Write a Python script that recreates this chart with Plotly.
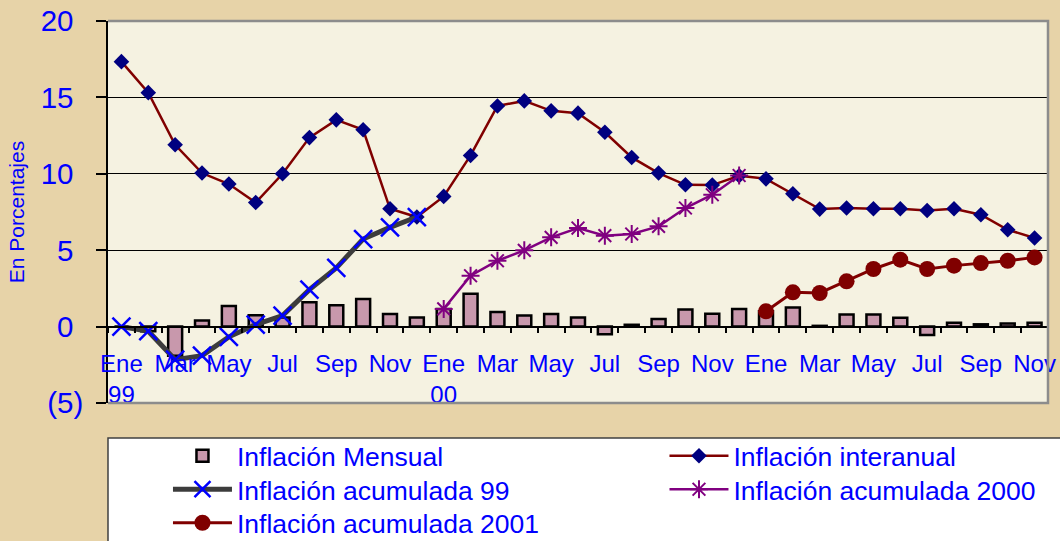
import plotly.graph_objects as go

# ---------------- data ----------------
meses = ["Ene", "Feb", "Mar", "Abr", "May", "Jun", "Jul", "Ago", "Sep", "Oct", "Nov", "Dic"]
anios = ["99", "00", "01"]
categorias = [f"{m} {a}" for a in anios for m in meses][:35]

x_tick_text = ["Ene<br>99", "", "Mar", "", "May", "", "Jul", "", "Sep", "", "Nov", "",
               "Ene<br>00", "", "Mar", "", "May", "", "Jul", "", "Sep", "", "Nov", "",
               "Ene", "", "Mar", "", "May", "", "Jul", "", "Sep", "", "Nov"]

inflacion_mensual = [0.0, -0.3, -1.9, 0.4, 1.35, 0.75, 0.6, 1.6, 1.4, 1.8, 0.82, 0.6,
                     1.15, 2.15, 0.95, 0.72, 0.82, 0.6, -0.5, 0.12, 0.5, 1.12, 0.84, 1.15,
                     1.0, 1.25, 0.05, 0.8, 0.8, 0.58, -0.55, 0.25, 0.15, 0.2, 0.25]

inflacion_interanual = [17.34, 15.31, 11.9, 10.05, 9.33, 8.12, 10.0, 12.37, 13.53, 12.88, 7.71, 7.17,
                        8.52, 11.2, 14.44, 14.77, 14.12, 13.97, 12.72, 11.07, 10.05, 9.28, 9.26, 9.87,
                        9.67, 8.69, 7.69, 7.76, 7.71, 7.71, 7.6, 7.71, 7.32, 6.34, 5.8]

acumulada_99 = [0.0, -0.3, -2.16, -1.9, -0.67, 0.13, 0.72, 2.42, 3.84, 5.73, 6.49, 7.17]
acumulada_2000 = [1.16, 3.33, 4.31, 4.99, 5.84, 6.45, 5.95, 6.06, 6.56, 7.76, 8.63, 9.89]
acumulada_2001 = [1.0, 2.24, 2.2, 2.96, 3.77, 4.38, 3.77, 3.99, 4.16, 4.31, 4.53]

y_tick_vals = [-5, 0, 5, 10, 15, 20]
_pad = "<span style='color:rgba(0,0,0,0)'>)</span>"
y_tick_text = ["(5)", "0" + _pad, "5" + _pad, "10" + _pad, "15" + _pad, "20" + _pad]

# ---------------- style ----------------
FONT = "Arial, 'Liberation Sans', sans-serif"
BLUE = "#0000FF"

fig = go.Figure()

fig.add_trace(go.Bar(
    x=categorias, y=inflacion_mensual, name="Inflación Mensual",
    marker=dict(color="#C898AC", line=dict(color="#000000", width=2.5)),
    legend="legend",
))
fig.add_trace(go.Scatter(
    x=categorias, y=inflacion_interanual, name="Inflación interanual",
    mode="lines+markers",
    line=dict(color="#800000", width=2.5),
    marker=dict(symbol="diamond", size=12, color="#000080"),
    legend="legend2",
))
fig.add_trace(go.Scatter(
    x=categorias[0:12], y=acumulada_99, name="Inflación acumulada 99",
    mode="lines+markers",
    line=dict(color="#3C3C3C", width=5),
    marker=dict(symbol="x-thin", size=18, color=BLUE, line=dict(color=BLUE, width=2.5)),
    legend="legend3",
))
fig.add_trace(go.Scatter(
    x=categorias[12:24], y=acumulada_2000, name="Inflación acumulada 2000",
    mode="lines+markers",
    line=dict(color="#800080", width=2.5),
    marker=dict(symbol="asterisk", size=15, color="#800080", line=dict(color="#800080", width=2)),
    legend="legend4",
))
fig.add_trace(go.Scatter(
    x=categorias[24:35], y=acumulada_2001, name="Inflación acumulada 2001",
    mode="lines+markers",
    line=dict(color="#800000", width=3),
    marker=dict(symbol="circle", size=16, color="#800000"),
    legend="legend5",
))

legend_common = dict(
    orientation="v", yanchor="top", xanchor="left",
    bgcolor="rgba(0,0,0,0)", borderwidth=0,
    font=dict(family=FONT, size=26.5, color=BLUE),
    itemwidth=59, tracegroupgap=0,
)
COL1, COL2 = 0.0638, 0.592
ROW1, ROW2, ROW3 = -0.0759, -0.1636, -0.2513

fig.update_layout(
    width=1060, height=541,
    margin=dict(l=108, r=12, t=21, b=138, autoexpand=False),
    paper_bgcolor="#E7D3A8",
    plot_bgcolor="#F5F2E1",
    font=dict(family=FONT, color=BLUE),
    bargap=0.48,
    showlegend=True,
    legend=dict(x=COL1, y=ROW1, **legend_common),
    legend2=dict(x=COL2, y=ROW1, **legend_common),
    legend3=dict(x=COL1, y=ROW2, **legend_common),
    legend4=dict(x=COL2, y=ROW2, **legend_common),
    legend5=dict(x=COL1, y=ROW3, **legend_common),
    xaxis=dict(
        type="category", categoryorder="array", categoryarray=categorias,
        range=[-0.5, 34.5],
        anchor="free", position=0.2,
        showline=True, linecolor="#000000", linewidth=1.5,
        ticks="outside", ticklen=6, tickwidth=1.5, tickcolor="#000000",
        tickson="boundaries",
        tickmode="array", tickvals=categorias, ticktext=x_tick_text,
        tickangle=0,
        tickfont=dict(family=FONT, size=24, color=BLUE),
        ticklabelstandoff=16,
        showgrid=False, zeroline=False,
    ),
    yaxis=dict(
        range=[-5, 20],
        tickmode="array", tickvals=y_tick_vals, ticktext=y_tick_text,
        showgrid=True, gridcolor="#000000", gridwidth=1,
        showline=True, linecolor="#000000", linewidth=1.5,
        ticks="outside", ticklen=10, tickwidth=1.5, tickcolor="#000000",
        tickfont=dict(family=FONT, size=29.5, color=BLUE),
        ticklabelstandoff=7,
        zeroline=False,
        title=dict(text="En Porcentajes", font=dict(family=FONT, size=21, color=BLUE), standoff=10),
    ),
    shapes=[
        # gray frame of the plot area (top, right, bottom)
        dict(type="path", xref="paper", yref="paper",
             path="M 0 1 L 1 1 L 1 0 L 0 0",
             line=dict(color="#8C8C8C", width=2.5), layer="above"),
        # white legend box
        dict(type="rect", xref="paper", yref="paper",
             x0=0, x1=1.1, y0=-0.0916, y1=-0.6,
             fillcolor="#FFFFFF", line=dict(color="#404040", width=1.5), layer="above"),
    ],
)

fig.write_html("out.html", config={"displayModeBar": False},
               post_script="document.body.style.margin='0';document.body.style.overflow='hidden';")
